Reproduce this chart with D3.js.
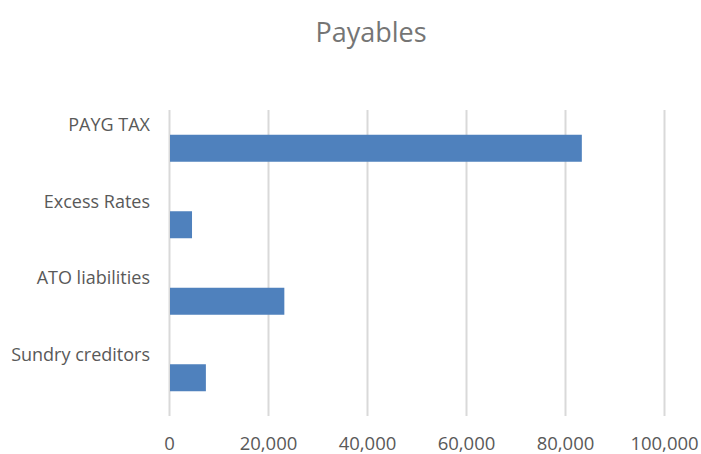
<!DOCTYPE html>
<html>
<head>
<meta charset="utf-8">
<script src="https://cdn.jsdelivr.net/npm/d3@7"></script>
<style>
  body { margin: 0; background: #fff; }
  text { font-family: "Open Sans", sans-serif; }
</style>
</head>
<body>
<div id="chart"></div>
<script>
const categories = ['PAYG TAX', 'Excess Rates', 'ATO liabilities', 'Sundry creditors'];
const values = [83400, 4650, 23300, 7450];
const xTicks = [0, 20000, 40000, 60000, 80000, 100000];

const width = 701, height = 454;
const margin = { top: 110, right: 37, bottom: 38, left: 169 };
const innerW = width - margin.left - margin.right;
const innerH = height - margin.top - margin.bottom;

const svg = d3.select('#chart').append('svg')
  .attr('width', width)
  .attr('height', height);

svg.append('text')
  .attr('x', 371)
  .attr('y', 42)
  .attr('text-anchor', 'middle')
  .attr('font-size', '27px')
  .attr('fill', '#757575')
  .text('Payables');

const g = svg.append('g')
  .attr('transform', `translate(${margin.left},${margin.top})`);

const x = d3.scaleLinear().domain([0, 100000]).range([0, innerW]);
const band = d3.scaleBand().domain(categories).range([0, innerH]);

// gridlines
g.selectAll('.grid')
  .data(xTicks)
  .enter().append('line')
  .attr('x1', d => Math.round(x(d)) + 0.5)
  .attr('x2', d => Math.round(x(d)) + 0.5)
  .attr('y1', 0)
  .attr('y2', innerH)
  .attr('stroke', '#d9d9d9')
  .attr('stroke-width', 2);

g.selectAll('.bar')
  .data(values)
  .enter().append('rect')
  .attr('x', x(0) + 1)
  .attr('y', (d, i) => band(categories[i]) + band.bandwidth() / 2 - 13.5)
  .attr('width', d => x(d) - x(0) - 1)
  .attr('height', 27)
  .attr('fill', '#4f81bd');

// category labels (sit above the bars)
g.selectAll('.cat')
  .data(categories)
  .enter().append('text')
  .attr('x', -19)
  .attr('y', d => band(d) + band.bandwidth() / 2 - 17)
  .attr('text-anchor', 'end')
  .attr('font-size', '18px')
  .attr('fill', '#595959')
  .text(d => d);

const xAxis = g.append('g')
  .attr('transform', `translate(0,${innerH})`)
  .call(d3.axisBottom(x).tickValues(xTicks).tickFormat(d3.format(',')).tickSize(0).tickPadding(21));
xAxis.select('.domain').remove();
xAxis.selectAll('text')
  .attr('font-family', '"Open Sans", sans-serif')
  .style('font-size', '18.5px')
  .attr('fill', '#595959');
</script>
</body>
</html>
